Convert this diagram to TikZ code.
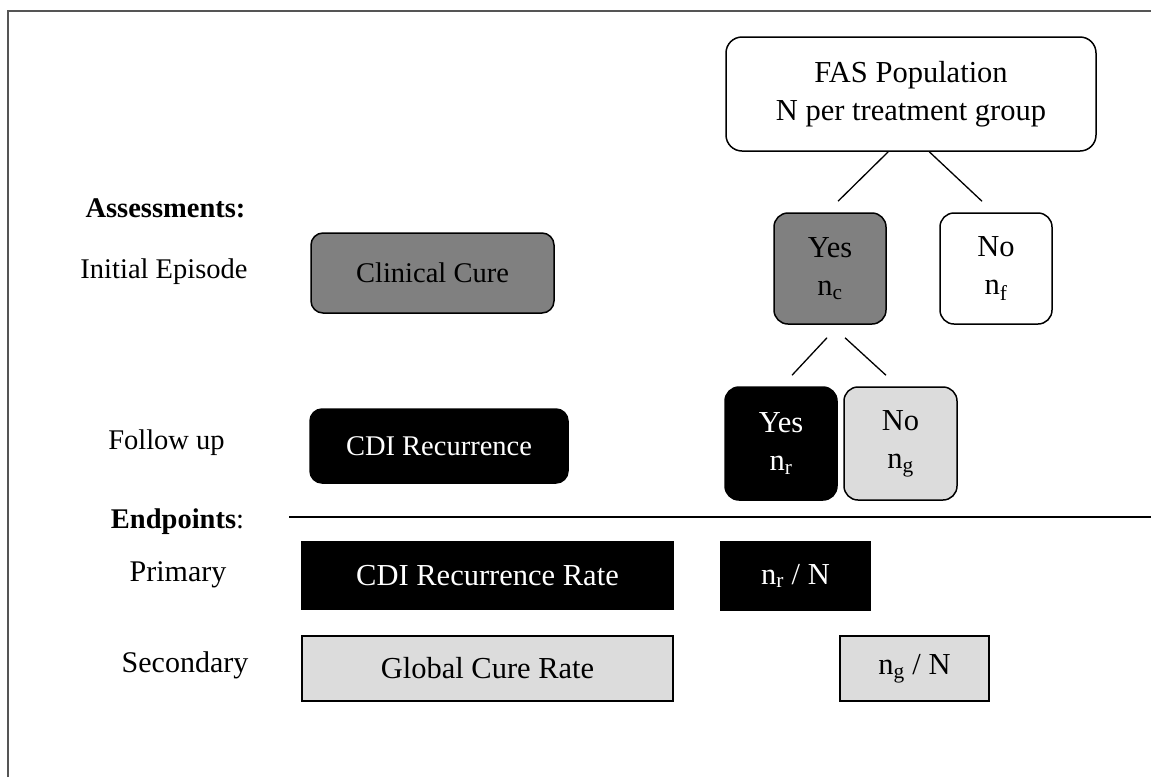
\documentclass[tikz,border=0pt]{standalone}
\usepackage{fontspec}
\setmainfont{Liberation Serif}
\usetikzlibrary{calc}
\definecolor{midgray}{HTML}{808080}
\definecolor{lightgray}{HTML}{DCDCDC}
\definecolor{framegray}{HTML}{555555}
\tikzset{
  lbl/.style={inner sep=0pt, font=\fontsize{28.5}{34}\selectfont},
  base/.style={draw=black, line width=1.5pt, inner sep=0pt, align=center},
  rbox/.style={base, rounded corners=14pt},
  sbox/.style={base, font=\fontsize{28.5}{34}\selectfont},
  tbox/.style={base, font=\fontsize{30.5}{38}\selectfont},
  darkbox/.style={fill=black, text=white},
  graybox/.style={fill=midgray},
  lightbox/.style={fill=lightgray},
  link/.style={line width=1.3pt}
}
\begin{document}
\begin{tikzpicture}[x=1pt,y=-1pt]
\useasboundingbox (0,0) rectangle (1151,777);
% open frame
\draw[framegray, line width=2pt] (8,777) -- (8,11) -- (1151,11);

% left labels
\node[lbl, font=\fontsize{28.5}{34}\selectfont\bfseries] (assess) at (165.5,208) {Assessments:};
\node[lbl] (initial) at (164,272) {Initial Episode};
\node[lbl] (follow) at (166.5,443) {Follow up};
\node[lbl] (endp) at (177.5,522) {\textbf{Endpoints}:};
\node[lbl, font=\fontsize{30}{36}\selectfont] (primary) at (178,575) {Primary};
\node[lbl, font=\fontsize{30}{36}\selectfont] (secondary) at (185,665) {Secondary};

% assessment boxes
\node[sbox, rounded corners=12pt, graybox, minimum width=243pt, minimum height=80pt] (clin) at (432.5,273) {Clinical Cure};
\node[sbox, rounded corners=12pt, darkbox, minimum width=258pt, minimum height=74pt] (cdi) at (439,446) {CDI Recurrence};

% tree
\node[tbox, rounded corners=16pt, minimum width=370pt, minimum height=114pt] (fas) at (911,94) {FAS Population\\N per treatment group};
\node[tbox, rounded corners=14pt, graybox, minimum width=112pt, minimum height=111pt] (yes1) at (830,268.5) {Yes\\n\textsubscript{c}};
\node[tbox, rounded corners=14pt, minimum width=112pt, minimum height=111pt] (no1) at (996,268.5) {No\\n\textsubscript{f}};
\node[tbox, rounded corners=14pt, darkbox, minimum width=112pt, minimum height=113pt] (yes2) at (781,443.5) {Yes\\n\textsubscript{r}};
\node[tbox, rounded corners=14pt, lightbox, minimum width=113pt, minimum height=113pt] (no2) at (900.5,443.5) {No\\n\textsubscript{g}};

\draw[link] ($(fas.south west)+(163,0)$) -- ($(yes1.north)+(8,-11)$);
\draw[link] ($(fas.south west)+(204,0)$) -- ($(no1.north)+(-14,-11)$);
\draw[link] ($(yes1.south)+(-3,13)$) -- ($(yes2.north)+(11,-11)$);
\draw[link] ($(yes1.south)+(15,13)$) -- ($(no2.north)+(-14.5,-11)$);

% endpoints separator
\coordinate (sepL) at (289,517);
\coordinate (sepR) at (1151,517);
\draw[line width=2pt] (sepL) -- (sepR);

% endpoint boxes
\node[tbox, darkbox, minimum width=371pt, minimum height=67pt] (cdirate) at (487.5,575.5) {CDI Recurrence Rate};
\node[tbox, lightbox, minimum width=371pt, minimum height=65pt] (global) at (487.5,668.5) {Global Cure Rate};
\node[tbox, darkbox, minimum width=149pt, minimum height=68pt] (nrN) at (795.5,576) {n\textsubscript{r} / N};
\node[tbox, lightbox, minimum width=149pt, minimum height=65pt] (ngN) at (914.5,668.5) {n\textsubscript{g} / N};
\end{tikzpicture}
\end{document}
